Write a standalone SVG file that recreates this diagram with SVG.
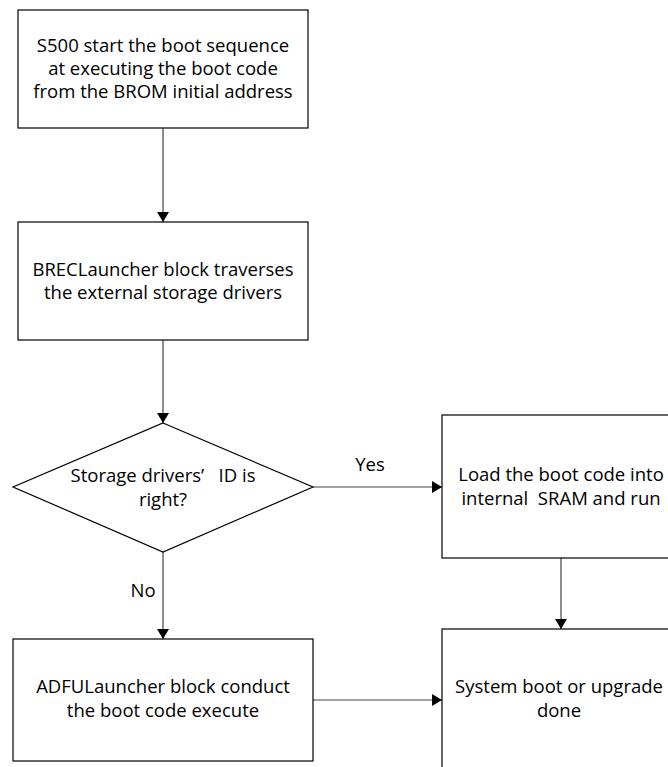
<svg xmlns="http://www.w3.org/2000/svg" width="668" height="767" viewBox="0 0 668 767">
<style>
.box{fill:#fff;stroke:#000;stroke-width:1.2}
.t{font-family:"Open Sans","Liberation Sans",sans-serif;font-size:18.5px;fill:#000;text-anchor:middle;white-space:pre}
.c{stroke:#444;stroke-width:1.2;fill:none;marker-end:url(#ah)}
</style>
<defs>
<marker id="ah" markerWidth="10" markerHeight="12" refX="10" refY="6" orient="auto" markerUnits="userSpaceOnUse">
<path d="M0,0 L10,6 L0,12 Z" fill="#000"/>
</marker>
</defs>
<rect width="668" height="767" fill="#fff"/>
<g id="connectors">
<line class="c" x1="163" y1="128" x2="163" y2="222"/>
<line class="c" x1="163" y1="340" x2="163" y2="423"/>
<line class="c" x1="313" y1="487" x2="442" y2="487"/>
<line class="c" x1="163" y1="552" x2="163" y2="639"/>
<line class="c" x1="561" y1="558" x2="561" y2="629"/>
<line class="c" x1="313" y1="700" x2="442" y2="700"/>
<text class="t" x="370" y="471">Yes</text>
<text class="t" x="143" y="597">No</text>
</g>
<g id="n1">
<rect class="box" x="18" y="10" width="290" height="118"/>
<text class="t" x="163" y="52">S500 start the boot sequence</text>
<text class="t" x="163" y="75">at executing the boot code</text>
<text class="t" x="163" y="98">from the BROM initial address</text>
</g>
<g id="n2">
<rect class="box" x="18" y="222" width="290" height="118"/>
<text class="t" x="163" y="276">BRECLauncher block traverses</text>
<text class="t" x="163" y="299">the external storage drivers</text>
</g>
<g id="n3">
<polygon class="box" points="163,423 313,487 163,552 13,487"/>
<text class="t" x="163" y="482">Storage drivers’   ID is</text>
<text class="t" x="163" y="506">right?</text>
</g>
<g id="n4">
<rect class="box" x="442" y="415" width="238" height="143"/>
<text class="t" x="561" y="481">Load the boot code into</text>
<text class="t" x="561" y="505">internal  SRAM and run</text>
</g>
<g id="n5">
<rect class="box" x="13" y="639" width="300" height="122"/>
<text class="t" x="163" y="693">ADFULauncher block conduct</text>
<text class="t" x="163" y="717">the boot code execute</text>
</g>
<g id="n6">
<rect class="box" x="442" y="629" width="238" height="150"/>
<text class="t" x="559" y="693">System boot or upgrade</text>
<text class="t" x="559" y="717">done</text>
</g>
</svg>
